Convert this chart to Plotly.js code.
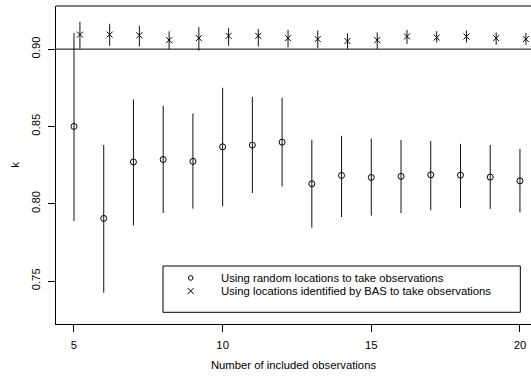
<!DOCTYPE html>
<html>
<head>
<meta charset="utf-8">
<script src="https://cdn.plot.ly/plotly-3.0.1.min.js"></script>
<style>html,body{margin:0;padding:0;background:#fff;}#chart{width:531px;height:376px;}</style>
</head>
<body>
<div id="chart"></div>
<script>
// Number of included observations
var nObs = [5, 6, 7, 8, 9, 10, 11, 12, 13, 14, 15, 16, 17, 18, 19, 20];
// Random locations: mean k and interval bounds
var randMean  = [0.850, 0.7905, 0.827, 0.8286, 0.8274, 0.8368, 0.8379, 0.8398, 0.8129, 0.8183, 0.8170, 0.8177, 0.8187, 0.8185, 0.8172, 0.8148];
var randUpper = [0.9104, 0.838, 0.8674, 0.8633, 0.8584, 0.875, 0.8692, 0.8685, 0.8413, 0.8439, 0.8421, 0.8413, 0.8406, 0.8387, 0.8380, 0.8355];
var randLower = [0.7888, 0.7424, 0.786, 0.794, 0.7968, 0.7983, 0.8069, 0.8112, 0.7845, 0.7914, 0.7923, 0.7940, 0.7957, 0.7972, 0.7966, 0.7944];
// BAS-identified locations (plotted with a +0.2 offset)
var basOffset = 0.2;
var basMean  = [0.9094, 0.9094, 0.909, 0.9058, 0.9071, 0.9086, 0.9086, 0.9071, 0.9065, 0.9052, 0.9058, 0.9082, 0.9075, 0.9082, 0.9071, 0.9065];
var basUpper = [0.9177, 0.9164, 0.9151, 0.9115, 0.9142, 0.9136, 0.9130, 0.9125, 0.9120, 0.9101, 0.9108, 0.9125, 0.9116, 0.9120, 0.9108, 0.9103];
var basLower = [0.9003, 0.9021, 0.9017, 0.9000, 0.8991, 0.9021, 0.9017, 0.9011, 0.9006, 0.9002, 0.9000, 0.9034, 0.9043, 0.9043, 0.9028, 0.9028];
var refLevel = 0.90;
var xTicks = [5, 10, 15, 20];
var yTicks = [0.75, 0.80, 0.85, 0.90];
var legendLabels = ["Using random locations to take observations", "Using locations identified by BAS to take observations"];
var xTitle = "Number of included observations";
var yTitle = "k";

function diff(a, b) { return a.map(function (v, i) { return v - b[i]; }); }

var basX = nObs.map(function (v) { return v + basOffset; });

var traces = [
  {
    x: nObs, y: randMean, type: 'scatter', mode: 'markers', name: legendLabels[0],
    marker: {symbol: 'circle-open', size: 6, color: '#000', line: {width: 1, color: '#000'}},
    error_y: {type: 'data', symmetric: false, array: diff(randUpper, randMean), arrayminus: diff(randMean, randLower),
              width: 0, thickness: 1, color: '#111'},
    showlegend: false, hoverinfo: 'skip'
  },
  {
    x: basX, y: basMean, type: 'scatter', mode: 'markers', name: legendLabels[1],
    marker: {symbol: 'x-thin-open', size: 6, color: '#000', line: {width: 1, color: '#000'}},
    error_y: {type: 'data', symmetric: false, array: diff(basUpper, basMean), arrayminus: diff(basMean, basLower),
              width: 0, thickness: 1, color: '#111'},
    showlegend: false, hoverinfo: 'skip'
  }
];

var F = 'Liberation Sans, Arial, sans-serif';
var FS = 11.3;
var legX0 = 0.2253, legX1 = 0.9775, legY0 = 0.0368, legY1 = 0.1824;
var symX = 0.2836, txtX = 0.3432, rowY = [0.1447, 0.1038];

var layout = {
  width: 531, height: 376,
  margin: {l: 56, r: 0, t: 6, b: 52, pad: 0},
  paper_bgcolor: '#fff', plot_bgcolor: '#fff',
  font: {family: F, size: FS, color: '#000'},
  showlegend: false,
  xaxis: {
    range: [4.395, 20.372], tickvals: xTicks, ticktext: xTicks.map(String),
    showline: true, linecolor: '#000', linewidth: 1, mirror: false,
    ticks: 'outside', ticklen: 7, tickcolor: '#000', tickwidth: 1,
    showgrid: false, zeroline: false, tickfont: {family: F, size: FS, color: '#000'},
    ticklabelstandoff: 3,
    title: {text: xTitle, font: {family: F, size: FS, color: '#000'}, standoff: 11}
  },
  yaxis: {
    range: [0.7222, 0.9279], tickvals: yTicks, ticktext: yTicks.map(function (v) { return v.toFixed(2); }),
    showline: true, linecolor: '#000', linewidth: 1, mirror: false,
    ticks: 'outside', ticklen: 7, tickcolor: '#000', tickwidth: 1, tickangle: -90,
    showgrid: false, zeroline: false, tickfont: {family: F, size: FS, color: '#000'},
    ticklabelstandoff: 3,
    title: {text: yTitle, font: {family: F, size: FS, color: '#000'}, standoff: 8}
  },
  shapes: [
    {type: 'line', xref: 'paper', yref: 'paper', x0: 0, x1: 1, y0: 1, y1: 1, line: {color: '#000', width: 1}},
    {type: 'line', xref: 'paper', yref: 'y', x0: 0, x1: 1, y0: refLevel, y1: refLevel, line: {color: '#000', width: 1}},
    {type: 'rect', xref: 'paper', yref: 'paper', x0: legX0, x1: legX1, y0: legY0, y1: legY1, line: {color: '#000', width: 1}, fillcolor: 'rgba(0,0,0,0)'},
    {type: 'circle', xref: 'paper', yref: 'paper', xsizemode: 'pixel', ysizemode: 'pixel', xanchor: symX, yanchor: rowY[0],
     x0: -2.3, x1: 2.3, y0: -2.3, y1: 2.3, line: {color: '#000', width: 1}},
    {type: 'path', xref: 'paper', yref: 'paper', xsizemode: 'pixel', ysizemode: 'pixel', xanchor: symX, yanchor: rowY[1],
     path: 'M-3,-3L3,3M-3,3L3,-3', line: {color: '#000', width: 1}}
  ],
  annotations: [
    {xref: 'paper', yref: 'paper', x: txtX, y: rowY[0], text: legendLabels[0], showarrow: false, xanchor: 'left', yanchor: 'middle', font: {family: F, size: FS, color: '#000'}},
    {xref: 'paper', yref: 'paper', x: txtX, y: rowY[1], text: legendLabels[1], showarrow: false, xanchor: 'left', yanchor: 'middle', font: {family: F, size: FS, color: '#000'}}
  ]
};

Plotly.newPlot('chart', traces, layout, {staticPlot: true, displayModeBar: false});
</script>
</body>
</html>
